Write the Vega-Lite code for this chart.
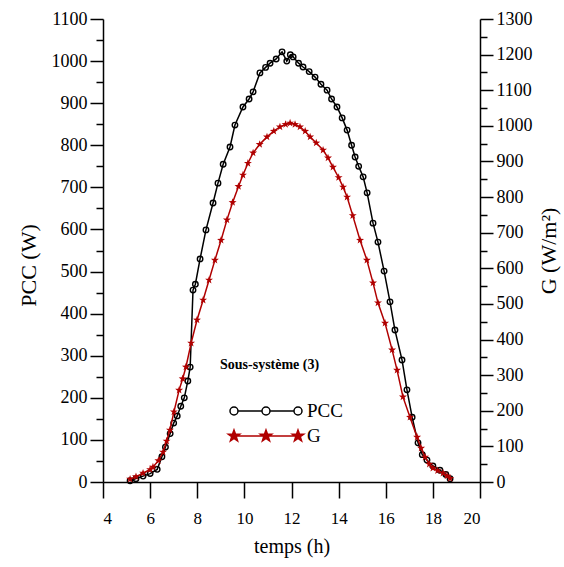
{
  "$schema": "https://vega.github.io/schema/vega-lite/v6.json",
  "width": 377,
  "height": 463,
  "autosize": "none",
  "padding": {"left": 103, "top": 19, "right": 84, "bottom": 85},
  "background": "white",
  "config": {
    "view": {"stroke": null},
    "font": "Liberation Serif",
    "axis": {
      "labelFont": "Liberation Serif",
      "labelFontSize": 18,
      "labelColor": "black",
      "titleFont": "Liberation Serif",
      "titleFontWeight": "normal",
      "titleColor": "black",
      "titleFontSize": 22,
      "domainColor": "black",
      "domainWidth": 1.5,
      "tickColor": "black",
      "tickWidth": 1.5,
      "grid": false
    }
  },
  "data": {
    "values": [
      {"t": 5.15, "v": 3, "s": "PCC"}, {"t": 5.4, "v": 8, "s": "PCC"}, {"t": 5.7, "v": 14, "s": "PCC"},
      {"t": 6.0, "v": 20, "s": "PCC"}, {"t": 6.3, "v": 30, "s": "PCC"}, {"t": 6.5, "v": 60, "s": "PCC"},
      {"t": 6.65, "v": 83, "s": "PCC"}, {"t": 6.85, "v": 115, "s": "PCC"}, {"t": 7.0, "v": 140, "s": "PCC"},
      {"t": 7.15, "v": 157, "s": "PCC"}, {"t": 7.3, "v": 180, "s": "PCC"}, {"t": 7.45, "v": 200, "s": "PCC"},
      {"t": 7.6, "v": 240, "s": "PCC"}, {"t": 7.7, "v": 273, "s": "PCC"}, {"t": 7.82, "v": 456, "s": "PCC"},
      {"t": 7.92, "v": 470, "s": "PCC"}, {"t": 8.12, "v": 530, "s": "PCC"}, {"t": 8.37, "v": 599, "s": "PCC"},
      {"t": 8.67, "v": 663, "s": "PCC"}, {"t": 8.88, "v": 710, "s": "PCC"}, {"t": 9.1, "v": 755, "s": "PCC"},
      {"t": 9.39, "v": 796, "s": "PCC"}, {"t": 9.6, "v": 848, "s": "PCC"}, {"t": 9.94, "v": 891, "s": "PCC"},
      {"t": 10.2, "v": 910, "s": "PCC"}, {"t": 10.37, "v": 927, "s": "PCC"}, {"t": 10.66, "v": 972, "s": "PCC"},
      {"t": 10.9, "v": 985, "s": "PCC"}, {"t": 11.09, "v": 995, "s": "PCC"}, {"t": 11.35, "v": 1005, "s": "PCC"},
      {"t": 11.6, "v": 1022, "s": "PCC"}, {"t": 11.8, "v": 1000, "s": "PCC"}, {"t": 11.95, "v": 1015, "s": "PCC"},
      {"t": 12.07, "v": 1010, "s": "PCC"}, {"t": 12.3, "v": 995, "s": "PCC"}, {"t": 12.49, "v": 986, "s": "PCC"},
      {"t": 12.75, "v": 975, "s": "PCC"}, {"t": 13.0, "v": 962, "s": "PCC"}, {"t": 13.25, "v": 945, "s": "PCC"},
      {"t": 13.51, "v": 931, "s": "PCC"}, {"t": 13.7, "v": 910, "s": "PCC"}, {"t": 13.93, "v": 891, "s": "PCC"},
      {"t": 14.15, "v": 865, "s": "PCC"}, {"t": 14.36, "v": 836, "s": "PCC"}, {"t": 14.55, "v": 800, "s": "PCC"},
      {"t": 14.7, "v": 772, "s": "PCC"}, {"t": 14.85, "v": 750, "s": "PCC"}, {"t": 15.04, "v": 725, "s": "PCC"},
      {"t": 15.21, "v": 687, "s": "PCC"}, {"t": 15.46, "v": 615, "s": "PCC"}, {"t": 15.67, "v": 570, "s": "PCC"},
      {"t": 15.93, "v": 501, "s": "PCC"}, {"t": 16.18, "v": 428, "s": "PCC"}, {"t": 16.39, "v": 361, "s": "PCC"},
      {"t": 16.69, "v": 290, "s": "PCC"}, {"t": 16.9, "v": 219, "s": "PCC"}, {"t": 17.12, "v": 154, "s": "PCC"},
      {"t": 17.37, "v": 93, "s": "PCC"}, {"t": 17.55, "v": 65, "s": "PCC"}, {"t": 17.75, "v": 52, "s": "PCC"},
      {"t": 18.0, "v": 38, "s": "PCC"}, {"t": 18.3, "v": 28, "s": "PCC"}, {"t": 18.55, "v": 18, "s": "PCC"},
      {"t": 18.73, "v": 8, "s": "PCC"},
      {"t": 5.15, "v": 8, "s": "G"}, {"t": 5.4, "v": 15, "s": "G"}, {"t": 5.7, "v": 25, "s": "G"},
      {"t": 6.0, "v": 35, "s": "G"}, {"t": 6.12, "v": 42, "s": "G"}, {"t": 6.35, "v": 60, "s": "G"},
      {"t": 6.55, "v": 84, "s": "G"}, {"t": 6.7, "v": 115, "s": "G"}, {"t": 6.84, "v": 146, "s": "G"},
      {"t": 7.01, "v": 197, "s": "G"}, {"t": 7.23, "v": 258, "s": "G"}, {"t": 7.38, "v": 290, "s": "G"},
      {"t": 7.52, "v": 323, "s": "G"}, {"t": 7.74, "v": 390, "s": "G"}, {"t": 7.99, "v": 455, "s": "G"},
      {"t": 8.25, "v": 511, "s": "G"}, {"t": 8.5, "v": 567, "s": "G"}, {"t": 8.75, "v": 623, "s": "G"},
      {"t": 9.01, "v": 679, "s": "G"}, {"t": 9.26, "v": 736, "s": "G"}, {"t": 9.5, "v": 785, "s": "G"},
      {"t": 9.75, "v": 830, "s": "G"}, {"t": 9.94, "v": 862, "s": "G"}, {"t": 10.15, "v": 895, "s": "G"},
      {"t": 10.37, "v": 924, "s": "G"}, {"t": 10.65, "v": 948, "s": "G"}, {"t": 10.96, "v": 969, "s": "G"},
      {"t": 11.25, "v": 985, "s": "G"}, {"t": 11.51, "v": 997, "s": "G"}, {"t": 11.75, "v": 1004, "s": "G"},
      {"t": 11.94, "v": 1008, "s": "G"}, {"t": 12.15, "v": 1004, "s": "G"}, {"t": 12.36, "v": 997, "s": "G"},
      {"t": 12.58, "v": 985, "s": "G"}, {"t": 12.79, "v": 969, "s": "G"}, {"t": 13.05, "v": 952, "s": "G"},
      {"t": 13.34, "v": 932, "s": "G"}, {"t": 13.55, "v": 910, "s": "G"}, {"t": 13.76, "v": 884, "s": "G"},
      {"t": 14.0, "v": 855, "s": "G"}, {"t": 14.19, "v": 828, "s": "G"}, {"t": 14.36, "v": 800, "s": "G"},
      {"t": 14.6, "v": 748, "s": "G"}, {"t": 14.91, "v": 679, "s": "G"}, {"t": 15.2, "v": 623, "s": "G"},
      {"t": 15.46, "v": 559, "s": "G"}, {"t": 15.67, "v": 503, "s": "G"}, {"t": 15.97, "v": 446, "s": "G"},
      {"t": 16.27, "v": 371, "s": "G"}, {"t": 16.48, "v": 314, "s": "G"}, {"t": 16.73, "v": 239, "s": "G"},
      {"t": 17.03, "v": 182, "s": "G"}, {"t": 17.33, "v": 126, "s": "G"}, {"t": 17.5, "v": 95, "s": "G"},
      {"t": 17.67, "v": 70, "s": "G"}, {"t": 17.85, "v": 50, "s": "G"}, {"t": 18.0, "v": 39, "s": "G"},
      {"t": 18.2, "v": 32, "s": "G"}, {"t": 18.43, "v": 25, "s": "G"}, {"t": 18.6, "v": 17, "s": "G"},
      {"t": 18.73, "v": 10, "s": "G"}
    ]
  },
  "layer": [
    {
      "transform": [{"filter": "datum.s === 'PCC'"}],
      "encoding": {
        "x": {
          "field": "t", "type": "quantitative",
          "scale": {"domain": [4, 20], "nice": false, "zero": false},
          "axis": {
            "title": "temps (h)",
            "titleFontSize": 20,
            "titlePadding": 10,
            "values": [4,5,6,7,8,9,10,11,12,13,14,15,16,17,18,19,20],
            "labelExpr": "datum.value % 2 === 0 ? datum.label : ''",
            "tickSize": {"condition": {"test": "datum.value % 2 === 0", "value": 16}, "value": 8},
            "labelPadding": 12,
            "labelFontSize": 17
          }
        },
        "y": {
          "field": "v", "type": "quantitative",
          "scale": {"domain": [0, 1100], "nice": false},
          "axis": {
            "title": "PCC (W)",
            "titlePadding": 11,
            "titleY": 246,
            "values": [0,50,100,150,200,250,300,350,400,450,500,550,600,650,700,750,800,850,900,950,1000,1050,1100],
            "labelExpr": "datum.value % 100 === 0 ? datum.label : ''",
            "tickSize": {"condition": {"test": "datum.value % 100 === 0", "value": 13}, "value": 7},
            "labelPadding": 3,
            "format": "d"
          }
        },
        "color": {
          "field": "s", "type": "nominal",
          "scale": {"domain": ["PCC", "G"], "range": ["#000000", "#b00000"]},
          "legend": {
            "orient": "none",
            "legendX": 117,
            "legendY": 339,
            "title": "Sous-système (3)",
            "titleFont": "Liberation Serif",
            "titleFontSize": 14,
            "titleFontWeight": "bold",
            "titleColor": "black",
            "titlePadding": 6,
            "labelFont": "Liberation Serif",
            "labelFontSize": 19,
            "labelColor": "black",
            "symbolSize": 4096,
            "labelOffset": 21,
            "rowPadding": -17,
            "encoding": {
              "symbols": {
                "shape": {"condition": {"test": "datum.value === 'PCC'", "value": "M-0.719,0A0.125,0.125 0 1,0 -0.469,0A0.125,0.125 0 1,0 -0.719,0M-0.469,0L0.281,0M0.281,0A0.125,0.125 0 1,0 0.531,0A0.125,0.125 0 1,0 0.281,0M0.531,0L1.281,0M1.281,0A0.125,0.125 0 1,0 1.531,0A0.125,0.125 0 1,0 1.281,0"}, "value": "M-0.594,-0.5625L1.406,-0.5625M-0.594,-0.7525L-0.549,-0.6245L-0.413,-0.6215L-0.522,-0.5385L-0.482,-0.4085L-0.594,-0.4865L-0.706,-0.4085L-0.666,-0.5385L-0.775,-0.6215L-0.639,-0.6245ZM0.406,-0.7525L0.451,-0.6245L0.587,-0.6215L0.478,-0.5385L0.518,-0.4085L0.406,-0.4865L0.294,-0.4085L0.334,-0.5385L0.225,-0.6215L0.361,-0.6245ZM1.406,-0.7525L1.451,-0.6245L1.587,-0.6215L1.478,-0.5385L1.518,-0.4085L1.406,-0.4865L1.294,-0.4085L1.334,-0.5385L1.225,-0.6215L1.361,-0.6245Z"},
                "fillOpacity": {"condition": {"test": "datum.value === 'PCC'", "value": 0}, "value": 1},
                "fill": {"value": "#b00000"},
                "stroke": {"condition": {"test": "datum.value === 'PCC'", "value": "#000000"}, "value": "#b00000"},
                "strokeWidth": {"value": 1.5},
                "opacity": {"value": 1}
              },
              "labels": {
                "dy": {"condition": {"test": "datum.value === 'G'", "value": -18}, "value": 0}
              }
            }
          }
        }
      },
      "layer": [
        {"mark": {"type": "line", "strokeWidth": 1.5}},
        {"mark": {"type": "point", "shape": "circle", "filled": false, "size": 30, "strokeWidth": 1.4, "opacity": 1}}
      ]
    },
    {
      "transform": [{"filter": "datum.s === 'G'"}],
      "encoding": {
        "x": {"field": "t", "type": "quantitative", "scale": {"domain": [4, 20], "nice": false, "zero": false}},
        "y": {
          "field": "v", "type": "quantitative",
          "scale": {"domain": [0, 1300], "nice": false},
          "axis": {
            "orient": "right",
            "title": "G (W/m²)",
            "titleAngle": -90,
            "titlePadding": 28,
            "values": [0,50,100,150,200,250,300,350,400,450,500,550,600,650,700,750,800,850,900,950,1000,1050,1100,1150,1200,1250,1300],
            "labelExpr": "datum.value % 100 === 0 ? datum.label : ''",
            "tickSize": {"condition": {"test": "datum.value % 100 === 0", "value": 13}, "value": 7},
            "labelPadding": 3,
            "format": "d"
          }
        },
        "color": {
          "field": "s", "type": "nominal",
          "scale": {"domain": ["PCC", "G"], "range": ["#000000", "#b00000"]}
        }
      },
      "layer": [
        {"mark": {"type": "line", "strokeWidth": 1.5}},
        {"mark": {"type": "point", "shape": "M0,-1L0.235,-0.324L0.951,-0.309L0.38,0.124L0.588,0.809L0,0.4L-0.588,0.809L-0.38,0.124L-0.951,-0.309L-0.235,-0.324Z", "filled": true, "size": 70, "opacity": 1}}
      ]
    }
  ],
  "resolve": {"scale": {"y": "independent"}}
}
